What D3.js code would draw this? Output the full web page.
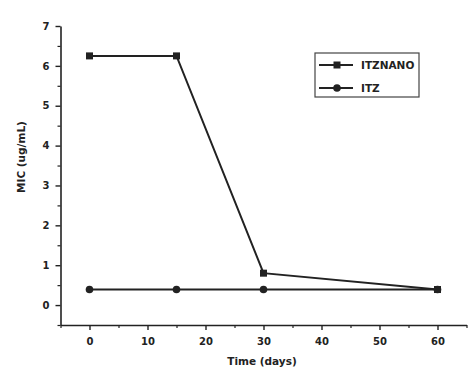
<!DOCTYPE html>
<html>
<head>
<meta charset="utf-8">
<script src="https://cdn.jsdelivr.net/npm/d3@7"></script>
<style>
  body { margin: 0; background: #fff; }
  text { font-family: "DejaVu Sans", Arial, sans-serif; fill: #222; }
</style>
</head>
<body>
<div id="chart"></div>
<script>
const days = [0, 15, 30, 60];
const itzNano = [6.25, 6.25, 0.8, 0.39];
const itz = [0.39, 0.39, 0.39, 0.39];
const seriesNames = ['ITZNANO', 'ITZ'];
const xTicks = [0, 10, 20, 30, 40, 50, 60];
const yTicks = [0, 1, 2, 3, 4, 5, 6, 7];

const width = 468, height = 370;
const ink = '#222';

const svg = d3.select('#chart').append('svg')
  .attr('width', width)
  .attr('height', height);

const x = d3.scaleLinear().domain([-5, 65]).range([60.5, 466.5]);
const y = d3.scaleLinear().domain([-0.5, 7]).range([325, 26]);

// minor ticks
const xMinor = d3.range(-5, 66, 5).filter(v => v % 10 !== 0);
const yMinor = d3.range(-0.5, 7.01, 0.5).filter(v => v % 1 !== 0);

svg.append('g')
  .attr('transform', `translate(0,${y(-0.5)})`)
  .call(d3.axisBottom(x).tickValues(xMinor).tickSize(3).tickFormat(''))
  .call(g => g.select('.domain').remove())
  .call(g => g.selectAll('line').attr('stroke', ink).attr('stroke-width', 1.2));

svg.append('g')
  .attr('transform', `translate(${x(-5)},0)`)
  .call(d3.axisLeft(y).tickValues(yMinor).tickSize(3).tickFormat(''))
  .call(g => g.select('.domain').remove())
  .call(g => g.selectAll('line').attr('stroke', ink).attr('stroke-width', 1.2));

// major axes
svg.append('g')
  .attr('transform', `translate(0,${y(-0.5)})`)
  .call(d3.axisBottom(x).tickValues(xTicks).tickSize(5).tickSizeOuter(0).tickPadding(8))
  .call(g => g.select('.domain').attr('stroke', ink).attr('stroke-width', 1.6))
  .call(g => g.selectAll('line').attr('stroke', ink).attr('stroke-width', 1.4))
  .call(g => g.selectAll('text').attr('font-size', 10).attr('font-weight', 'bold').attr('fill', ink));

svg.append('g')
  .attr('transform', `translate(${x(-5)},0)`)
  .call(d3.axisLeft(y).tickValues(yTicks).tickSize(5).tickSizeOuter(0).tickPadding(6))
  .call(g => g.select('.domain').attr('stroke', ink).attr('stroke-width', 1.6))
  .call(g => g.selectAll('line').attr('stroke', ink).attr('stroke-width', 1.4))
  .call(g => g.selectAll('text').attr('font-size', 10).attr('font-weight', 'bold').attr('fill', ink));

// titles
svg.append('text')
  .attr('x', 262)
  .attr('y', 365)
  .attr('text-anchor', 'middle')
  .attr('font-size', 10.5)
  .attr('font-weight', 'bold')
  .text('Time (days)');

svg.append('text')
  .attr('transform', `translate(25,157) rotate(-90)`)
  .attr('text-anchor', 'middle')
  .attr('font-size', 10.5)
  .attr('font-weight', 'bold')
  .text('MIC (ug/mL)');

const line = d3.line()
  .x(d => x(d[0]))
  .y(d => y(d[1]));

const series = [
  { name: seriesNames[0], pts: days.map((d, i) => [d, itzNano[i]]), shape: 'square' },
  { name: seriesNames[1], pts: days.map((d, i) => [d, itz[i]]), shape: 'circle' }
];

const drawMarker = (g, shape, cx, cy) => {
  if (shape === 'square') {
    g.append('rect')
      .attr('x', cx - 3.5).attr('y', cy - 3.5)
      .attr('width', 7).attr('height', 7)
      .attr('fill', ink);
  } else {
    g.append('circle')
      .attr('cx', cx).attr('cy', cy).attr('r', 3.8)
      .attr('fill', ink);
  }
};

series.forEach(s => {
  svg.append('path')
    .attr('d', line(s.pts))
    .attr('fill', 'none')
    .attr('stroke', ink)
    .attr('stroke-width', 2);
  const g = svg.append('g');
  s.pts.forEach(p => drawMarker(g, s.shape, x(p[0]), y(p[1])));
});

// legend
const legend = svg.append('g').attr('transform', 'translate(315,53)');
legend.append('rect')
  .attr('width', 104).attr('height', 44)
  .attr('fill', '#fff')
  .attr('stroke', '#444')
  .attr('stroke-width', 1.2);

series.forEach((s, i) => {
  const ly = 12 + i * 23;
  legend.append('line')
    .attr('x1', 4).attr('x2', 38)
    .attr('y1', ly).attr('y2', ly)
    .attr('stroke', ink).attr('stroke-width', 2);
  drawMarker(legend, s.shape, 22, ly);
  legend.append('text')
    .attr('x', 46).attr('y', ly + 4)
    .attr('font-size', 10.5)
    .attr('font-weight', 'bold')
    .text(s.name);
});
</script>
</body>
</html>
